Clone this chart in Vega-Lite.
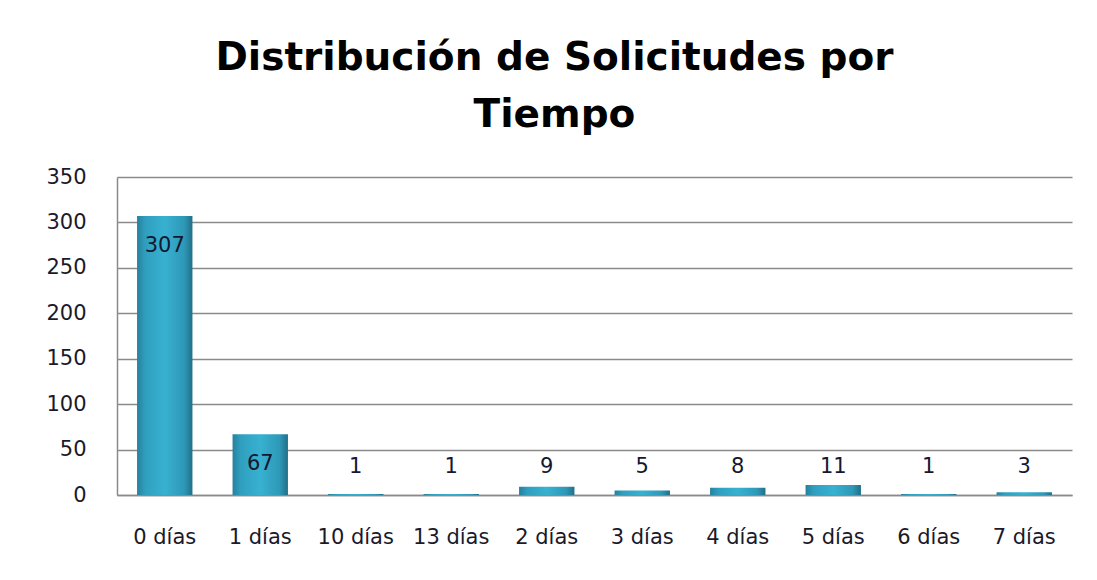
{
  "$schema": "https://vega.github.io/schema/vega-lite/v6.json",
  "autosize": "none",
  "width": 955,
  "height": 318,
  "padding": {"left": 117, "top": 177, "right": 25, "bottom": 85},
  "background": "white",
  "title": {
    "text": ["Distribución de Solicitudes por", "Tiempo"],
    "font": "DejaVu Sans",
    "fontWeight": "bold",
    "fontSize": 39,
    "lineHeight": 57,
    "color": "#000000",
    "anchor": "middle",
    "frame": "group",
    "dx": -40,
    "offset": -8,
    "baseline": "bottom"
  },
  "data": {
    "values": [
      {"cat": "0 días", "v": 307},
      {"cat": "1 días", "v": 67},
      {"cat": "10 días", "v": 1},
      {"cat": "13 días", "v": 1},
      {"cat": "2 días", "v": 9},
      {"cat": "3 días", "v": 5},
      {"cat": "4 días", "v": 8},
      {"cat": "5 días", "v": 11},
      {"cat": "6 días", "v": 1},
      {"cat": "7 días", "v": 3}
    ]
  },
  "encoding": {
    "x": {
      "field": "cat",
      "type": "nominal",
      "sort": null,
      "scale": {"paddingInner": 0.42, "paddingOuter": 0.21},
      "axis": {
        "title": null,
        "labelAngle": 0,
        "labelFont": "DejaVu Sans",
        "labelFontSize": 21,
        "labelColor": "#1a1a2a",
        "labelPadding": 31,
        "ticks": false,
        "domain": true,
        "domainColor": "#8a8a8a",
        "domainWidth": 1.5
      }
    }
  },
  "layer": [
    {
      "mark": {
        "type": "bar",
        "fill": {
          "gradient": "linear",
          "x1": 0, "y1": 0, "x2": 1, "y2": 0,
          "stops": [
            {"offset": 0, "color": "#26819e"},
            {"offset": 0.15, "color": "#309fbf"},
            {"offset": 0.5, "color": "#38b1d1"},
            {"offset": 0.85, "color": "#2e98b7"},
            {"offset": 1, "color": "#216f88"}
          ]
        }
      },
      "encoding": {
        "y": {
          "field": "v",
          "type": "quantitative",
          "scale": {"domain": [0, 350]},
          "axis": {
            "title": null,
            "values": [0, 50, 100, 150, 200, 250, 300, 350],
            "labelFont": "DejaVu Sans",
            "labelFontSize": 21,
            "labelColor": "#1a1a2a",
            "labelPadding": 31,
            "ticks": false,
            "domain": true,
            "domainColor": "#8a8a8a",
            "domainWidth": 1.5,
            "grid": true,
            "gridColor": "#8a8a8a",
            "gridWidth": 1.5
          }
        }
      }
    },
    {
      "transform": [{"filter": "datum.v >= 50"}],
      "mark": {"type": "text", "baseline": "middle", "dy": 30, "font": "DejaVu Sans", "fontSize": 21, "color": "#141830"},
      "encoding": {
        "y": {"field": "v", "type": "quantitative"},
        "text": {"field": "v", "type": "quantitative"}
      }
    },
    {
      "transform": [{"filter": "datum.v < 50"}],
      "mark": {"type": "text", "baseline": "middle", "dy": -28, "font": "DejaVu Sans", "fontSize": 21, "color": "#141830"},
      "encoding": {
        "y": {"datum": 0, "type": "quantitative"},
        "text": {"field": "v", "type": "quantitative"}
      }
    }
  ],
  "config": {"view": {"stroke": null}}
}
